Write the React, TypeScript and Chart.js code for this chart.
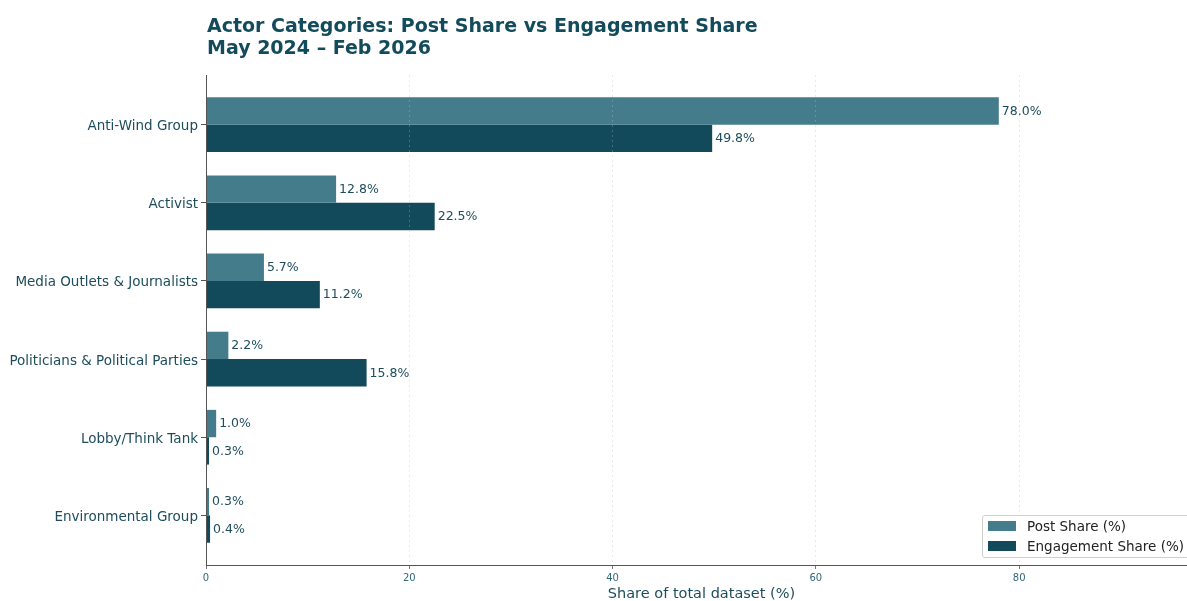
import React, { useEffect, useRef } from 'react';
import { Chart, registerables } from 'chart.js';

Chart.register(...registerables);

const categories = [
  'Anti-Wind Group',
  'Activist',
  'Media Outlets & Journalists',
  'Politicians & Political Parties',
  'Lobby/Think Tank',
  'Environmental Group',
];
const postShare = [78.0, 12.8, 5.7, 2.2, 1.0, 0.3];
const engagementShare = [49.8, 22.5, 11.2, 15.8, 0.3, 0.4];
const xTicks = [0, 20, 40, 60, 80];
const seriesLabels = ['Post Share (%)', 'Engagement Share (%)'];
const titleLines = ['Actor Categories: Post Share vs Engagement Share', 'May 2024 \u2013 Feb 2026'];
const xAxisTitle = 'Share of total dataset (%)';

const POST_COLOR = '#447c8c';
const ENG_COLOR = '#124a5b';
const TEXT_COLOR = '#1d4d5d';
const TITLE_COLOR = '#124b5b';
const FONT = "'DejaVu Sans', sans-serif";

const titlePlugin = {
  id: 'leftTitle',
  afterDraw(chart: any) {
    const { ctx, chartArea } = chart;
    ctx.save();
    ctx.font = `bold 19px ${FONT}`;
    ctx.fillStyle = TITLE_COLOR;
    ctx.textAlign = 'left';
    ctx.textBaseline = 'middle';
    titleLines.forEach((line, i) => {
      ctx.fillText(line, chartArea.left + 1, 27 + i * 22);
    });
    ctx.restore();
  },
};

const valueLabelPlugin = {
  id: 'valueLabels',
  afterDatasetsDraw(chart: any) {
    const { ctx } = chart;
    ctx.save();
    ctx.font = `12.5px ${FONT}`;
    ctx.fillStyle = TEXT_COLOR;
    ctx.textAlign = 'left';
    ctx.textBaseline = 'middle';
    chart.data.datasets.forEach((ds: any, di: number) => {
      const meta = chart.getDatasetMeta(di);
      meta.data.forEach((bar: any, i: number) => {
        const v = ds.data[i].x;
        ctx.fillText(v.toFixed(1) + '%', bar.x + 3, bar.y + 0.5);
      });
    });
    ctx.restore();
  },
};

const legendPlugin = {
  id: 'boxLegend',
  afterDraw(chart: any) {
    const { ctx, chartArea } = chart;
    ctx.save();
    ctx.font = `13.5px ${FONT}`;
    const widths = chart.data.datasets.map((d: any) => ctx.measureText(d.label).width);
    const maxW = Math.max(...widths);
    const width = 6 + 28 + 11 + maxW + 6;
    const height = 43;
    const right = chartArea.right - 7;
    const bottom = chartArea.bottom - 7;
    const left = right - width;
    const top = bottom - height;
    ctx.fillStyle = 'rgba(255,255,255,0.85)';
    ctx.strokeStyle = '#d0d0d0';
    ctx.lineWidth = 1;
    ctx.beginPath();
    const r = 3;
    ctx.moveTo(left + r, top + 0.5);
    ctx.lineTo(right - r, top + 0.5);
    ctx.quadraticCurveTo(right, top + 0.5, right, top + r);
    ctx.lineTo(right, bottom - r);
    ctx.quadraticCurveTo(right, bottom - 0.5, right - r, bottom - 0.5);
    ctx.lineTo(left + r, bottom - 0.5);
    ctx.quadraticCurveTo(left + 0.5, bottom - 0.5, left + 0.5, bottom - r);
    ctx.lineTo(left + 0.5, top + r);
    ctx.quadraticCurveTo(left + 0.5, top + 0.5, left + r, top + 0.5);
    ctx.closePath();
    ctx.fill();
    ctx.stroke();
    chart.data.datasets.forEach((d: any, i: number) => {
      const cy = top + 11 + i * 20;
      ctx.fillStyle = d.backgroundColor;
      ctx.fillRect(left + 6, cy - 5, 28, 10);
      ctx.fillStyle = '#222222';
      ctx.textAlign = 'left';
      ctx.textBaseline = 'middle';
      ctx.fillText(d.label, left + 6 + 28 + 11, cy + 1);
    });
    ctx.restore();
  },
};

export default function App() {
  const canvasRef = useRef<HTMLCanvasElement | null>(null);

  useEffect(() => {
    if (!canvasRef.current) return;
    Chart.defaults.font.family = FONT;
    const chart = new Chart(canvasRef.current, {
      type: 'bar',
      data: {
        datasets: [
          {
            label: seriesLabels[0],
            data: postShare.map((v, i) => ({ x: v, y: i })),
            backgroundColor: POST_COLOR,
            borderWidth: 0,
            categoryPercentage: 0.7,
            barPercentage: 1.0,
          },
          {
            label: seriesLabels[1],
            data: engagementShare.map((v, i) => ({ x: v, y: i })),
            backgroundColor: ENG_COLOR,
            borderWidth: 0,
            categoryPercentage: 0.7,
            barPercentage: 1.0,
          },
        ],
      },
      options: {
        indexAxis: 'y',
        responsive: false,
        maintainAspectRatio: false,
        animation: false,
        layout: { padding: { top: 75, right: 0, bottom: 0, left: 0 } },
        plugins: {
          legend: { display: false },
          title: { display: false },
          tooltip: { enabled: false },
        },
        scales: {
          x: {
            type: 'linear',
            min: 0,
            max: 97.5,
            afterBuildTicks: (scale: any) => {
              scale.ticks = xTicks.map((v) => ({ value: v }));
            },
            afterFit: (scale: any) => {
              scale.height = 36;
            },
            grid: {
              color: 'rgba(190,190,190,0.4)',
              lineWidth: 0.8,
              drawTicks: true,
              tickLength: 4,
              tickColor: '#555555',
              tickBorderDash: [],
              z: 1,
            },
            border: { display: true, color: '#555555', width: 1, dash: [2, 3], z: 1 },
            ticks: {
              color: '#2f6878',
              font: { size: 10, family: FONT },
              padding: 3,
              maxRotation: 0,
            },
            title: {
              display: true,
              text: xAxisTitle,
              color: TEXT_COLOR,
              font: { size: 14.5, family: FONT },
              padding: { top: 0, bottom: -2 },
            },
          },
          y: {
            type: 'linear',
            reverse: true,
            offset: false,
            min: -0.635,
            max: 5.635,
            afterBuildTicks: (scale: any) => {
              scale.ticks = categories.map((_, i) => ({ value: i }));
            },
            afterFit: (scale: any) => {
              scale.width = 206;
            },
            grid: {
              offset: false,
              drawOnChartArea: false,
              drawTicks: true,
              tickLength: 5,
              tickColor: '#555555',
            },
            border: { display: true, color: '#555555', width: 1, z: 1 },
            ticks: {
              color: TEXT_COLOR,
              font: { size: 13.5, family: FONT },
              padding: 3,
              labelOffset: 2,
              autoSkip: false,
              callback: (v: any) => categories[v as number] ?? '',
            },
          },
        },
      },
      plugins: [titlePlugin, valueLabelPlugin, legendPlugin],
    } as any);
    return () => chart.destroy();
  }, []);

  return (
    <div
      style={{
        position: 'fixed',
        left: 0,
        top: 0,
        width: 1187,
        height: 601,
        overflow: 'hidden',
        background: '#ffffff',
      }}
    >
      <canvas ref={canvasRef} width={1197} height={601} style={{ display: 'block' }} />
    </div>
  );
}
